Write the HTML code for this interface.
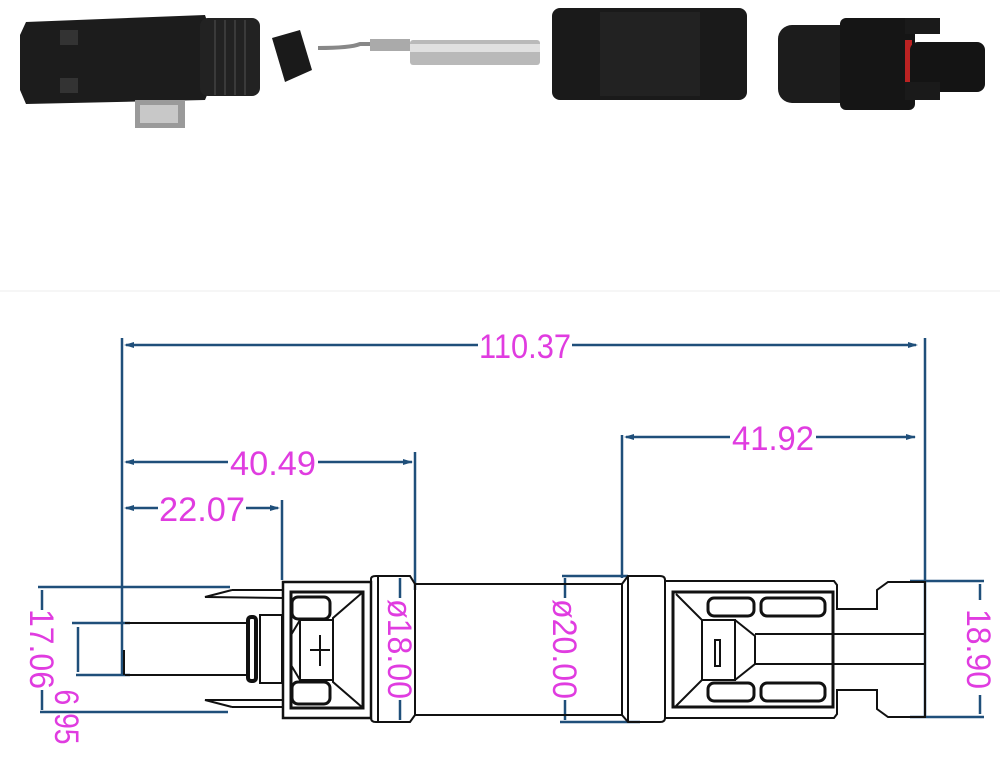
<!DOCTYPE html>
<html><head><meta charset="utf-8"><style>
html,body{margin:0;padding:0;background:#fff;}
svg{display:block;}
</style></head><body>
<svg width="1000" height="764" viewBox="0 0 1000 764" xmlns="http://www.w3.org/2000/svg">
<rect width="1000" height="764" fill="#fff"/>
<g>
  <path d="M26 22 L205 15 L210 30 L210 88 L205 100 L26 104 L20 90 L20 35 Z" fill="#1c1c1c"/>
  <rect x="200" y="18" width="60" height="78" rx="8" fill="#222"/>
  <g stroke="#3a3a3a" stroke-width="2">
    <line x1="215" y1="20" x2="215" y2="95"/><line x1="225" y1="20" x2="225" y2="95"/>
    <line x1="235" y1="20" x2="235" y2="95"/><line x1="245" y1="20" x2="245" y2="95"/>
  </g>
  <rect x="60" y="30" width="18" height="15" fill="#333"/>
  <rect x="60" y="78" width="18" height="15" fill="#333"/>
  <rect x="135" y="100" width="50" height="28" fill="#9a9a9a"/>
  <rect x="140" y="105" width="38" height="18" fill="#c8c8c8"/>
  <path d="M272 38 L300 30 L312 70 L285 82 Z" fill="#1a1a1a"/>
  <path d="M318 48 Q350 48 360 44 L405 44" stroke="#888" stroke-width="4" fill="none"/>
  <rect x="370" y="39" width="40" height="12" fill="#aaa"/>
  <rect x="410" y="40" width="130" height="25" rx="3" fill="#b9b9b9"/>
  <rect x="410" y="44" width="130" height="8" fill="#e0e0e0"/>
  <rect x="552" y="8" width="195" height="92" rx="8" fill="#1a1a1a"/>
  <rect x="600" y="12" width="100" height="84" fill="#222"/>
  <rect x="778" y="25" width="80" height="78" rx="14" fill="#1c1c1c"/>
  <rect x="840" y="18" width="75" height="92" rx="6" fill="#151515"/>
  <rect x="905" y="40" width="7" height="52" fill="#b22"/>
  <rect x="910" y="42" width="75" height="50" rx="8" fill="#141414"/>
  <rect x="905" y="18" width="35" height="16" fill="#1a1a1a"/>
  <rect x="905" y="82" width="35" height="18" fill="#1a1a1a"/>
</g>
<line x1="0" y1="291" x2="1000" y2="291" stroke="#eee" stroke-width="1"/>

<g stroke="#1f4f7a" stroke-width="2.5" fill="none">
  <line x1="122" y1="338" x2="122" y2="676"/>
  <line x1="925" y1="338" x2="925" y2="716"/>
  <line x1="126" y1="345" x2="478" y2="345"/><line x1="572" y1="345" x2="916" y2="345"/>
  <line x1="415" y1="452" x2="415" y2="590"/>
  <line x1="126" y1="462" x2="228" y2="462"/><line x1="318" y1="462" x2="412" y2="462"/>
  <line x1="282" y1="500" x2="282" y2="580"/>
  <line x1="126" y1="508" x2="158" y2="508"/><line x1="246" y1="508" x2="278" y2="508"/>
  <line x1="622" y1="435" x2="622" y2="578"/>
  <line x1="626" y1="437" x2="730" y2="437"/><line x1="816" y1="437" x2="915" y2="437"/>
  <line x1="38" y1="587" x2="230" y2="587"/>
  <line x1="40" y1="712" x2="228" y2="712"/>
  <line x1="72" y1="623" x2="130" y2="623"/>
  <line x1="76" y1="675" x2="130" y2="675"/>
  <line x1="42" y1="590" x2="42" y2="610"/><line x1="42" y1="690" x2="42" y2="710"/>
  <line x1="78" y1="627" x2="78" y2="672"/>
  <line x1="400" y1="578" x2="400" y2="598"/><line x1="400" y1="700" x2="400" y2="720"/>
  <line x1="562" y1="576" x2="628" y2="576"/><line x1="560" y1="722" x2="640" y2="722"/>
  <line x1="565" y1="578" x2="565" y2="598"/><line x1="565" y1="700" x2="565" y2="720"/>
  <line x1="910" y1="581" x2="984" y2="581"/><line x1="910" y1="717" x2="984" y2="717"/>
  <line x1="980" y1="584" x2="980" y2="600"/><line x1="980" y1="695" x2="980" y2="714"/>
</g>
<g fill="#1f4f7a">
  <path d="M124 345 l10 -3 v6z"/><path d="M918 345 l-10 -3 v6z"/>
  <path d="M124 462 l10 -3 v6z"/><path d="M413 462 l-10 -3 v6z"/>
  <path d="M124 508 l10 -3 v6z"/><path d="M280 508 l-10 -3 v6z"/>
  <path d="M624 437 l10 -3 v6z"/><path d="M916 437 l-10 -3 v6z"/>
</g>

<g stroke="#111" stroke-width="2" fill="none">
  <line x1="125" y1="623" x2="248" y2="623"/>
  <line x1="125" y1="675" x2="248" y2="675"/>
  <line x1="124" y1="650" x2="124" y2="675" stroke-width="2"/>
  <rect x="248" y="617" width="8" height="64" rx="3" stroke-width="4"/>
  <rect x="260" y="615" width="22" height="68"/>
  <path d="M232 590 L205 597 L283 598"/>
  <path d="M232 707 L205 700 L283 700"/>
  <line x1="232" y1="590" x2="283" y2="590"/><line x1="232" y1="707" x2="283" y2="707"/>
  <rect x="283" y="582" width="88" height="136" stroke-width="2.5"/>
  <rect x="291" y="592" width="72" height="116" stroke-width="3"/>
  <rect x="292" y="597" width="38" height="22" rx="6" stroke-width="3"/>
  <rect x="292" y="682" width="38" height="22" rx="6" stroke-width="3"/>
  <path d="M363 592 L333 618 L333 682 L363 708"/>
  <path d="M291 635 L300 620 L333 620 M291 665 L300 680 L333 680"/>
  <rect x="300" y="620" width="33" height="60"/>
  <path d="M320 635 V666 M310 650 H330"/>
  <path d="M371 579 Q371 576 376 576 L410 576 L415 584 L415 715 L410 722 L376 722 Q371 722 371 718 Z"/>
  <line x1="378" y1="576" x2="378" y2="722"/>
  <line x1="415" y1="584" x2="622" y2="584"/>
  <line x1="415" y1="715" x2="622" y2="715"/>
  <path d="M622 584 L628 576 L660 576 Q665 576 665 580 L665 718 Q665 722 660 722 L628 722 L622 715 Z"/>
  <line x1="628" y1="576" x2="628" y2="722"/>
  <path d="M665 581 L834 581 L837 585 L837 609 L877 609 L877 590 L888 582 L925 582 L925 717 L888 717 L877 709 L877 690 L837 690 L837 714 L834 718 L665 718"/>
  <rect x="673" y="592" width="160" height="115" stroke-width="3"/>
  <rect x="708" y="598" width="46" height="18" rx="6" stroke-width="3"/>
  <rect x="761" y="598" width="64" height="18" rx="6" stroke-width="3"/>
  <rect x="708" y="683" width="46" height="18" rx="6" stroke-width="3"/>
  <rect x="761" y="683" width="64" height="18" rx="6" stroke-width="3"/>
  <path d="M676 594 L702 620 L702 680 L676 706"/>
  <rect x="702" y="620" width="33" height="60"/>
  <path d="M735 620 L755 636 L755 664 L735 680"/>
  <line x1="755" y1="634" x2="925" y2="634"/>
  <line x1="755" y1="664" x2="925" y2="664"/>
  <rect x="715" y="640" width="5" height="26"/>
</g>

<g fill="#e03ce0" font-family="Liberation Sans, sans-serif" font-size="34">
  <text x="525" y="358" text-anchor="middle" textLength="92" lengthAdjust="spacingAndGlyphs">110.37</text>
  <text x="273" y="475" text-anchor="middle" textLength="86" lengthAdjust="spacingAndGlyphs">40.49</text>
  <text x="202" y="521" text-anchor="middle" textLength="86" lengthAdjust="spacingAndGlyphs">22.07</text>
  <text x="773" y="450" text-anchor="middle" textLength="82" lengthAdjust="spacingAndGlyphs">41.92</text>
  <text transform="translate(30,649) rotate(90)" text-anchor="middle" textLength="80" lengthAdjust="spacingAndGlyphs">17.06</text>
  <text transform="translate(55,717) rotate(90)" text-anchor="middle" textLength="55" lengthAdjust="spacingAndGlyphs">6 95</text>
  <text transform="translate(388,649) rotate(90)" text-anchor="middle" textLength="100" lengthAdjust="spacingAndGlyphs">ø18.00</text>
  <text transform="translate(553,649) rotate(90)" text-anchor="middle" textLength="100" lengthAdjust="spacingAndGlyphs">ø20.00</text>
  <text transform="translate(967,649) rotate(90)" text-anchor="middle" textLength="80" lengthAdjust="spacingAndGlyphs">18.90</text>
</g>
</svg>
</body></html>
